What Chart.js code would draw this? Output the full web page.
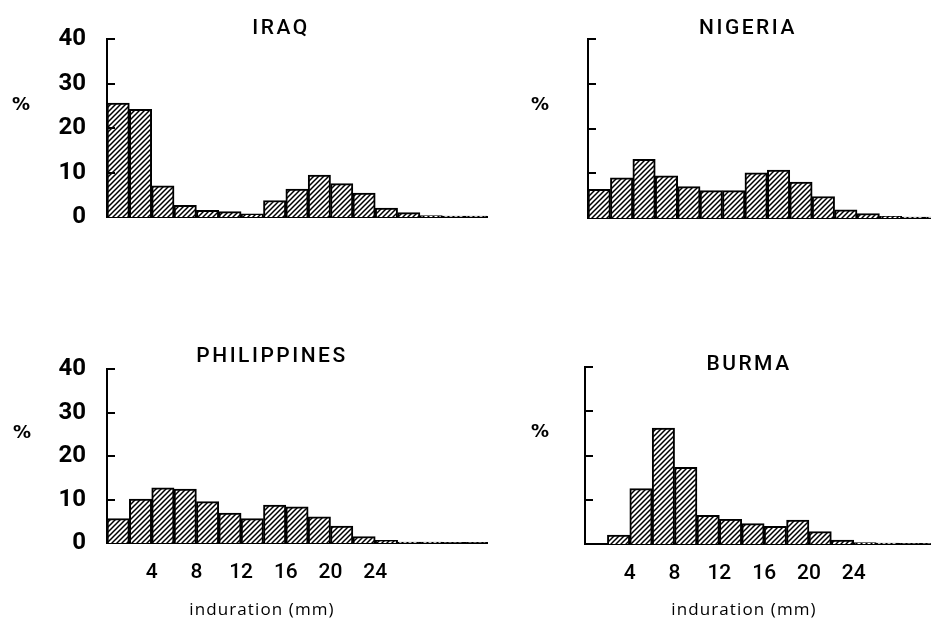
<!DOCTYPE html>
<html>
<head>
<meta charset="utf-8">
<script src="https://cdn.jsdelivr.net/npm/chart.js@4.4.1/dist/chart.umd.min.js"></script>
<style>
  html, body { margin: 0; padding: 0; background: #fff; }
  #wrap { position: relative; width: 931px; height: 619px; overflow: hidden; background: #fff; }
  canvas.panel { position: absolute; left: 0; top: 0; }
  .lbl { position: absolute; color: #000; white-space: nowrap; transform: translate(-50%, -50%); }
  .title { font-family: Roboto, 'DejaVu Sans', sans-serif; font-size: 21px; font-weight: 500; letter-spacing: 2.5px; }
  .pct { font-family: 'DejaVu Sans', sans-serif; font-size: 18px; font-weight: bold; }
  .xt { font-family: 'Open Sans', 'DejaVu Sans', sans-serif; font-size: 17px; letter-spacing: 1.1px; }
</style>
</head>
<body>
<div id="wrap">
  <canvas class="panel" id="cIraq" width="931" height="619"></canvas>
  <canvas class="panel" id="cNigeria" width="931" height="619"></canvas>
  <canvas class="panel" id="cPhil" width="931" height="619"></canvas>
  <canvas class="panel" id="cBurma" width="931" height="619"></canvas>

  <div class="lbl title" style="left:281px; top:27px;">IRAQ</div>
  <div class="lbl title" style="left:748px; top:27px;">NIGERIA</div>
  <div class="lbl title" style="left:272px; top:355px;">PHILIPPINES</div>
  <div class="lbl title" style="left:749px; top:363px;">BURMA</div>

  <div class="lbl pct" style="left:21px; top:103px;">%</div>
  <div class="lbl pct" style="left:540px; top:103px;">%</div>
  <div class="lbl pct" style="left:22px; top:431px;">%</div>
  <div class="lbl pct" style="left:540px; top:430px;">%</div>

  <div class="lbl xt" style="left:262px; top:608px;">induration (mm)</div>
  <div class="lbl xt" style="left:744px; top:608px;">induration (mm)</div>
</div>
<script>
// ---- data (induration bins of 2 mm, bin centres in mm) ----
const binCentres = [1, 3, 5, 7, 9, 11, 13, 15, 17, 19, 21, 23, 25, 27, 29, 31, 33];
const iraq        = [25.6, 24.2, 7.0, 2.6, 1.5, 1.2, 0.7, 3.7, 6.3, 9.4, 7.5, 5.4, 2.0, 1.0, 0.3, 0.2, 0.2];
const nigeria     = [6.4, 9.0, 13.1, 9.4, 7.0, 6.1, 6.1, 10.1, 10.7, 8.0, 4.8, 1.8, 1.0, 0.4, 0.2, 0.2, 0.1];
const philippines = [5.6, 10.1, 12.7, 12.4, 9.5, 6.9, 5.6, 8.7, 8.3, 6.0, 3.9, 1.5, 0.6, 0.2, 0.2, 0.1, 0.1];
const burma       = [null, 2.0, 12.5, 26.2, 17.3, 6.5, 5.6, 4.6, 4.0, 5.4, 2.8, 0.9, 0.3, 0.2, 0.1, 0.1, 0.1];
const yTicks = [0, 10, 20, 30, 40];
const xTickLabels = [4, 8, 12, 16, 20, 24];

// ---- hatch pattern ----
function makeHatch() {
  const s = 5;
  const pc = document.createElement('canvas');
  pc.width = s; pc.height = s;
  const p = pc.getContext('2d');
  p.fillStyle = '#fff';
  p.fillRect(0, 0, s, s);
  p.strokeStyle = '#000';
  p.lineWidth = 1.5;
  p.beginPath();
  p.moveTo(-1, s + 1); p.lineTo(s + 1, -1);
  p.moveTo(-1, 1); p.lineTo(1, -1);
  p.moveTo(s - 1, s + 1); p.lineTo(s + 1, s - 1);
  p.stroke();
  return p.createPattern(pc, 'repeat');
}
const hatch = makeHatch();

const inwardTicks = {
  id: 'inwardTicks',
  afterDatasetsDraw(chart) {
    const ys = chart.scales.y;
    const ctx = chart.ctx;
    ctx.save();
    ctx.strokeStyle = '#000';
    ctx.lineWidth = 2;
    ys.ticks.forEach(t => {
      if (t.value <= 0) return;
      const py = Math.round(ys.getPixelForValue(t.value));
      ctx.beginPath();
      ctx.moveTo(chart.chartArea.left, py);
      ctx.lineTo(chart.chartArea.left + 8, py);
      ctx.stroke();
    });
    ctx.restore();
  }
};

const tickFont = { family: "Roboto, 'DejaVu Sans', sans-serif", size: 24, weight: 'bold' };
const xFont = { family: "Roboto, 'DejaVu Sans', sans-serif", size: 21, weight: '500' };
const Y_W = 70, X_H = 50;

function makePanel(id, values, area, xMax, showY, showX) {
  const pts = binCentres.map((c, i) => ({ x: c, y: values[i] }));
  new Chart(document.getElementById(id), {
    type: 'bar',
    data: {
      datasets: [{
        data: pts,
        backgroundColor: hatch,
        borderColor: '#000',
        borderWidth: 2,
        borderSkipped: 'bottom',
        barPercentage: 1,
        categoryPercentage: 1
      }]
    },
    options: {
      responsive: false,
      animation: false,
      events: [],
      layout: { padding: { left: area.left - Y_W, right: 931 - area.right, top: area.top, bottom: 619 - area.bottom - X_H } },
      plugins: { legend: { display: false }, tooltip: { enabled: false }, title: { display: false } },
      scales: {
        x: {
          type: 'linear',
          offset: false,
          min: 0,
          max: xMax,
          afterFit(s) { s.height = X_H; s.paddingLeft = 0; s.paddingRight = 0; },
          border: { display: true, color: '#000', width: 2 },
          grid: { display: false, offset: false },
          ticks: {
            display: showX,
            stepSize: 4,
            autoSkip: false,
            maxRotation: 0,
            padding: 9,
            color: '#000',
            font: xFont,
            callback: (v) => xTickLabels.includes(v) ? String(v) : ''
          }
        },
        y: {
          min: yTicks[0],
          max: yTicks[yTicks.length - 1],
          afterFit(s) { s.width = Y_W; s.paddingTop = 0; s.paddingBottom = 0; },
          border: { display: true, color: '#000', width: 2 },
          grid: { display: false },
          ticks: {
            display: showY,
            stepSize: 10,
            padding: 13,
            color: '#000',
            font: tickFont,
            callback: (v) => yTicks.includes(v) ? String(v) : ''
          }
        }
      }
    },
    plugins: [inwardTicks]
  });
}

makePanel('cIraq', iraq, { left: 107, right: 487, top: 39, bottom: 217 }, 34, true, false);
makePanel('cNigeria', nigeria, { left: 588, right: 931, top: 39, bottom: 218 }, 30.6, false, false);
makePanel('cPhil', philippines, { left: 107, right: 487, top: 369, bottom: 543 }, 34, true, true);
makePanel('cBurma', burma, { left: 585, right: 931, top: 367, bottom: 544 }, 30.9, false, true);
</script>
</body>
</html>
